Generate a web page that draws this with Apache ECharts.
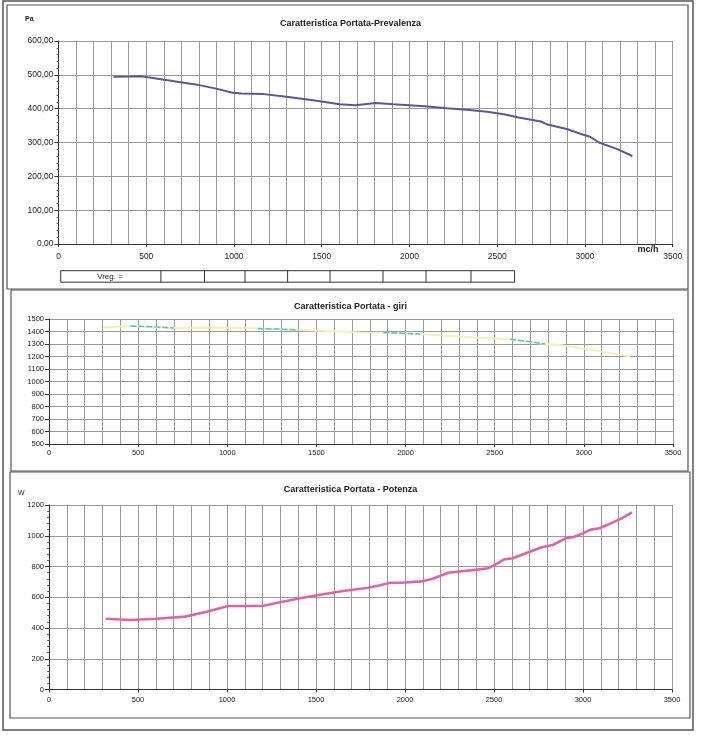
<!DOCTYPE html>
<html>
<head>
<meta charset="utf-8">
<script src="https://cdn.jsdelivr.net/npm/echarts@6/dist/echarts.min.js"></script>
<style>
html,body{margin:0;padding:0;background:#fff;}
#c{width:701px;height:748px;}
</style>
</head>
<body>
<div id="c"></div>
<script>
// ---- Data ----
const flowPa = [313, 407, 471, 509, 687, 789, 891, 993, 1043, 1171, 1298, 1451, 1603, 1692, 1807, 1909, 2087, 2214, 2341, 2443, 2545, 2621, 2749, 2787, 2901, 2978, 3029, 3080, 3181, 3270];
const pressurePa = [494, 495, 496, 493, 479, 471, 460, 447, 445, 443, 435, 425, 413, 410, 417, 413, 407, 401, 396, 391, 383, 374, 362, 353, 339, 325, 317, 300, 281, 260];

const flowRpm = [304, 456, 700, 907, 1170, 1400, 1744, 1875, 2081, 2305, 2586, 2782, 2866, 3128, 3259];
const rpmValues = [1432, 1444, 1428, 1432, 1424, 1412, 1393, 1391, 1380, 1359, 1338, 1300, 1292, 1233, 1200];
// cyan highlighted stretches
const flowRpmCyan = [456, 600, 700, null, 1170, 1300, 1400, null, 1875, 1980, 2081, null, 2586, 2700, 2782];
const rpmCyan = [1444, 1437, 1428, null, 1424, 1419, 1412, null, 1391, 1386, 1380, null, 1338, 1318, 1300];

const flowW = [318, 455, 605, 764, 886, 1007, 1130, 1205, 1298, 1410, 1541, 1653, 1794, 1855, 1918, 1980, 2093, 2155, 2243, 2305, 2393, 2468, 2505, 2555, 2605, 2705, 2768, 2830, 2905, 2943, 2993, 3043, 3093, 3168, 3218, 3275];
const powerW = [460, 452, 460, 474, 506, 543, 543, 545, 567, 593, 619, 641, 662, 677, 694, 694, 703, 720, 759, 768, 778, 789, 811, 845, 854, 897, 925, 940, 984, 990, 1012, 1040, 1049, 1087, 1113, 1152];

const titles = ['Caratteristica Portata-Prevalenza', 'Caratteristica Portata - giri', 'Caratteristica Portata - Potenza'];
const vregCellEdges = [60.7, 160.9, 204.5, 245, 287.6, 330, 383, 426, 471, 514.6];

const zip = (a, b) => a.map((v, i) => [v, b[i]]);

const FONT = '"Liberation Sans Narrow", "Liberation Sans", Arial, sans-serif';
const GRID = '#9a9a9a';
const AX = '#333';

function xAxisCfg(gi, fs, margin) {
  return {
    type: 'value', gridIndex: gi, min: 0, max: 3500, interval: 500,
    axisLine: {show: true, lineStyle: {color: AX, width: 1}},
    axisTick: {show: true, length: 3, lineStyle: {color: AX}},
    minorTick: {show: false, splitNumber: 5},
    splitLine: {show: true, lineStyle: {color: GRID, width: 1}},
    minorSplitLine: {show: true, lineStyle: {color: GRID, width: 1}},
    axisLabel: {fontSize: fs, color: '#222', fontFamily: FONT, margin: margin, showMinLabel: true, showMaxLabel: true,
      formatter: v => String(v)}
  };
}
function yAxisCfg(gi, min, max, interval, fs, fmt, minor) {
  return {
    type: 'value', gridIndex: gi, min: min, max: max, interval: interval,
    axisLine: {show: true, lineStyle: {color: AX, width: 1}},
    axisTick: {show: true, length: 4, lineStyle: {color: AX}},
    minorTick: {show: minor, splitNumber: 5, length: 2, lineStyle: {color: '#666'}},
    splitLine: {show: true, lineStyle: {color: GRID, width: 1}},
    axisLabel: {fontSize: fs, color: '#222', fontFamily: FONT, margin: 5, formatter: fmt}
  };
}

const graphics = [];
const frame = (x, y, w, h, lw) => graphics.push({type: 'rect', shape: {x, y, width: w, height: h}, style: {fill: null, stroke: '#555', lineWidth: lw}, z: 0, silent: true});
frame(3, 1, 690, 729, 1.5);
frame(7, 5, 681, 284, 1.2);
frame(11, 290, 677, 181, 1.2);
frame(10, 472, 680, 246, 1.2);
// Vreg table
graphics.push({type: 'rect', shape: {x: vregCellEdges[0], y: 270.7, width: vregCellEdges[vregCellEdges.length - 1] - vregCellEdges[0], height: 11.5}, style: {fill: '#fff', stroke: '#333', lineWidth: 1}, silent: true});
for (let i = 1; i < vregCellEdges.length - 1; i++) {
  graphics.push({type: 'line', shape: {x1: vregCellEdges[i], y1: 270.7, x2: vregCellEdges[i], y2: 282.2}, style: {stroke: '#333', lineWidth: 1}, silent: true});
}
graphics.push({type: 'text', x: 110, y: 276.5, style: {text: 'Vreg. =', font: 'normal 8px ' + FONT, fill: '#222', textAlign: 'center', textVerticalAlign: 'middle'}, silent: true});
graphics.push({type: 'text', x: 25, y: 19, style: {text: 'Pa', font: 'bold 7px ' + FONT, fill: '#222', textVerticalAlign: 'middle'}, silent: true});
graphics.push({type: 'text', x: 18, y: 493, style: {text: 'W', font: 'normal 7px ' + FONT, fill: '#222', textVerticalAlign: 'middle'}, silent: true});
graphics.push({type: 'text', x: 648, y: 250, style: {text: 'mc/h', font: 'bold 9px ' + FONT, fill: '#222', textAlign: 'center', textVerticalAlign: 'middle'}, silent: true});

const titleTops = [14, 297, 480];
const option = {
  animation: false,
  backgroundColor: '#fff',
  title: titles.map((t, i) => ({
    text: t, left: 'center', top: titleTops[i],
    textStyle: {fontSize: 9, fontWeight: 'bold', color: '#222', fontFamily: FONT}
  })),
  grid: [
    {left: 58.5, right: 28.3, top: 41, height: 203},
    {left: 49, right: 28, top: 319, height: 125},
    {left: 49, right: 29, top: 505, height: 184.5}
  ],
  xAxis: [xAxisCfg(0, 8.5, 8), xAxisCfg(1, 7.5, 5), xAxisCfg(2, 7.5, 6)],
  yAxis: [
    yAxisCfg(0, 0, 600, 100, 8.5, v => v.toFixed(2).replace('.', ','), true),
    yAxisCfg(1, 500, 1500, 100, 7.5, v => String(v), false),
    yAxisCfg(2, 0, 1200, 200, 7.5, v => String(v), true)
  ],
  graphic: graphics,
  series: [
    {type: 'line', xAxisIndex: 0, yAxisIndex: 0, data: zip(flowPa, pressurePa), showSymbol: false, smooth: false,
     lineStyle: {color: '#5a5699', width: 2}},
    {type: 'line', xAxisIndex: 1, yAxisIndex: 1, data: zip(flowRpm, rpmValues), showSymbol: false,
     lineStyle: {color: '#f1f1b8', width: 2}},
    {type: 'line', xAxisIndex: 1, yAxisIndex: 1, data: zip(flowRpmCyan, rpmCyan), showSymbol: false, connectNulls: false,
     lineStyle: {color: '#55c4c4', width: 1.5, type: [6, 2]}},
    {type: 'line', xAxisIndex: 2, yAxisIndex: 2, data: zip(flowW, powerW), showSymbol: false,
     lineStyle: {color: '#e064a4', width: 2.6}}
  ]
};
const chart = echarts.init(document.getElementById('c'), null, {renderer: 'canvas'});
chart.setOption(option);
</script>
</body>
</html>
